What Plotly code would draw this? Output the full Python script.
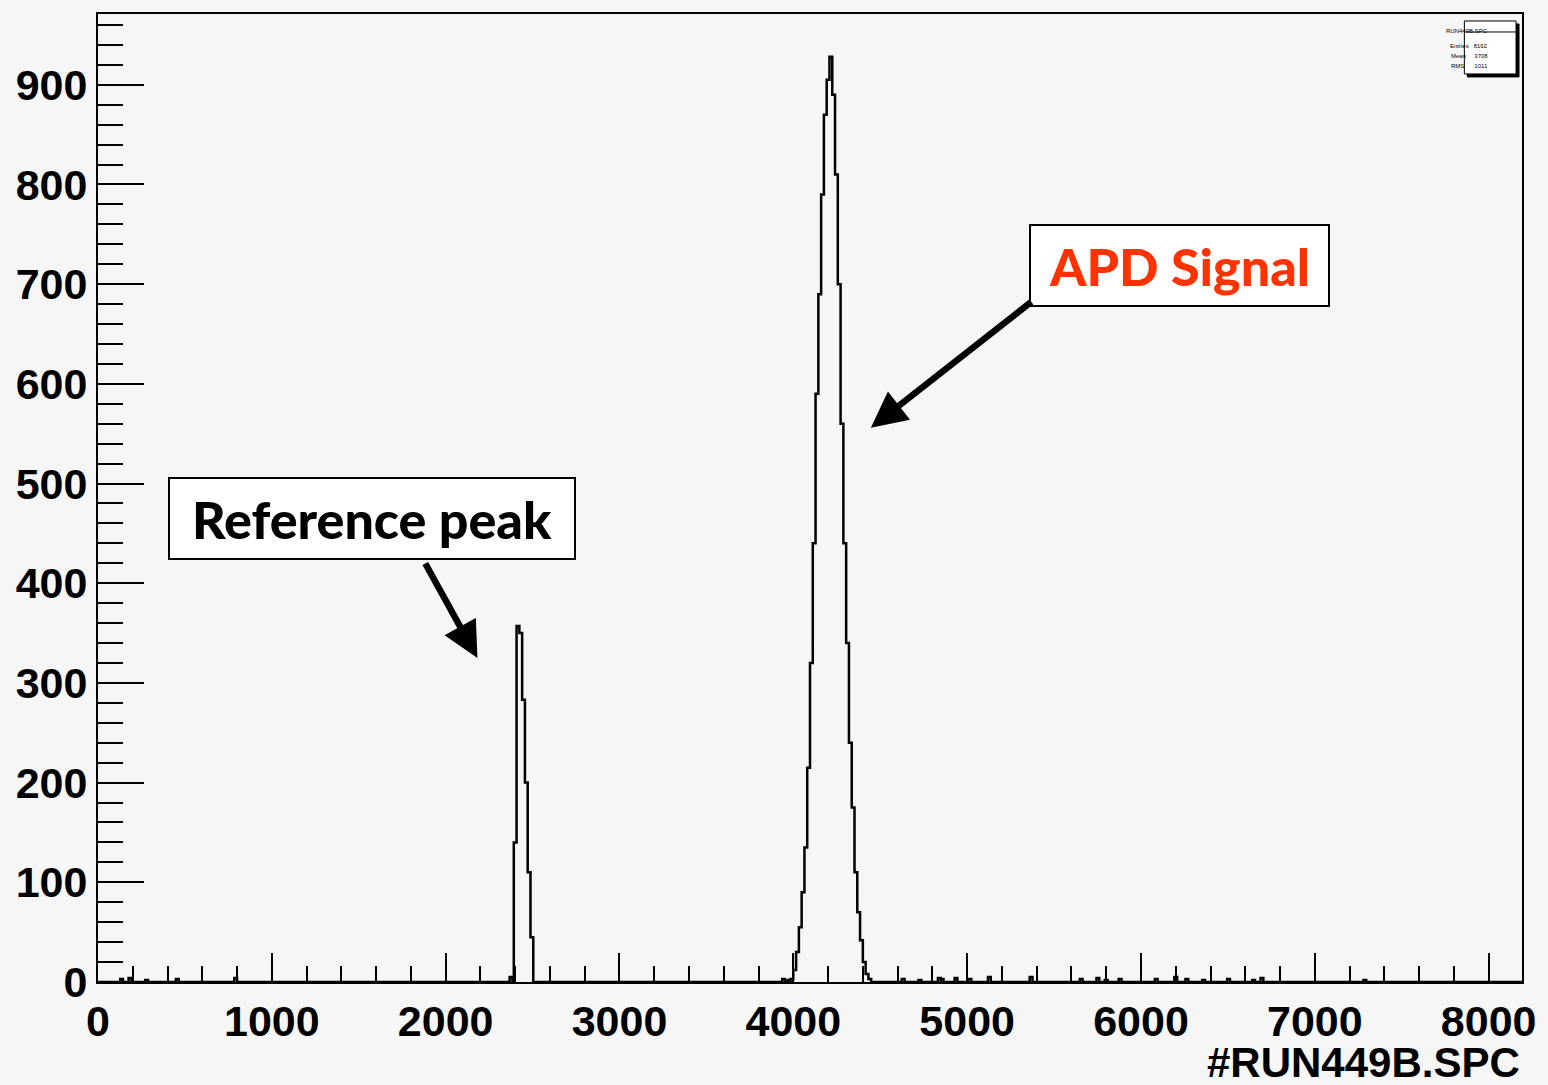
import plotly.graph_objects as go

# ---------------- data ----------------
BIN_W = 16  # channels per drawn bin

# reference (pulser) peak
ref_start = 2392
ref_counts = [140, 357, 350, 283, 200, 110, 45]

# APD signal peak
apd_start = 3984
apd_counts = [3, 12, 30, 55, 90, 135, 215, 320, 440, 590, 690, 790, 870, 905, 928,
              890, 810, 700, 560, 440, 340, 240, 175, 110, 70, 42, 20, 8, 3]

# scattered single-bin noise counts
noise_ch = [128, 176, 272, 448, 784, 2368, 3936, 3968, 4624, 4720, 4832, 4848, 4928,
            5008, 5120, 5360, 5648, 5744, 5792, 5872, 6080, 6192, 6256, 6352, 6496,
            6640, 6688, 7280]
noise_counts = [3, 4, 2, 3, 4, 5, 3, 2, 3, 2, 4, 3, 4, 3, 5, 5, 3, 4, 2, 3, 3, 5, 3, 2, 3,
                2, 4, 2]

x_ticks = [0, 1000, 2000, 3000, 4000, 5000, 6000, 7000, 8000]
y_ticks = [0, 100, 200, 300, 400, 500, 600, 700, 800, 900]
x_title = "#RUN449B.SPC"
stats_title = "RUN449B.SPC"
stats_rows = ["Entries   8192", "Mean     3708", "RMS      1011"]

# ---------------- build histogram step outline ----------------
segments = []
segments.append((ref_start, ref_counts))
segments.append((apd_start, apd_counts))
for c, v in zip(noise_ch, noise_counts):
    segments.append((c, [v]))
segments.sort(key=lambda s: s[0])

xs, ys = [0], [0]
for start, counts in segments:
    xs.append(start); ys.append(0)
    for i, v in enumerate(counts):
        xs.append(start + i * BIN_W); ys.append(v)
    xs.append(start + len(counts) * BIN_W); ys.append(0)
xs.append(8192); ys.append(0)

fig = go.Figure()
fig.add_trace(go.Scatter(x=xs, y=ys, mode="lines", line=dict(color="black", width=2.5, shape="hv"),
                         hoverinfo="skip", showlegend=False))

BG = "#f6f6f6"
tickfont = dict(family="Liberation Sans, Arial, sans-serif", size=43, color="black")

fig.update_layout(
    width=1548, height=1085, autosize=False,
    margin=dict(l=98, r=17, t=13, b=103),
    paper_bgcolor=BG, plot_bgcolor=BG,
    xaxis=dict(range=[0, 8192], showgrid=False, zeroline=False,
               showline=True, linecolor="black", linewidth=2, mirror=True,
               ticks="inside", ticklen=29, tickwidth=2, tickcolor="black",
               tickvals=x_ticks, ticktext=[f"<b>{v}</b>" for v in x_ticks],
               tickfont=tickfont,
               minor=dict(ticks="inside", ticklen=16, tickwidth=2, tickcolor="black", dtick=200,
                          showgrid=False)),
    yaxis=dict(range=[0, 971], showgrid=False, zeroline=False,
               showline=True, linecolor="black", linewidth=2, mirror=True,
               ticks="inside", ticklen=46, tickwidth=2, tickcolor="black",
               tickvals=y_ticks, ticktext=[f"<b>{v}</b>" for v in y_ticks],
               tickfont=tickfont,
               minor=dict(ticks="inside", ticklen=25, tickwidth=2, tickcolor="black", dtick=20,
                          showgrid=False)),
)

# x-axis title, right aligned
fig.add_annotation(xref="paper", yref="paper", x=1.0, y=0, xanchor="right", yanchor="top",
                   yshift=-55, showarrow=False, text=f"<b>{x_title}</b>",
                   font=dict(family="Liberation Sans, Arial, sans-serif", size=42, color="black"))

# label boxes
labfont = dict(family="Lato, sans-serif", size=52, weight=900)
fig.add_annotation(x=1574, y=465, xref="x", yref="y", showarrow=False,
                   text="Reference peak",
                   font=dict(labfont, color="black"),
                   bgcolor="white", bordercolor="black", borderwidth=2, borderpad=0,
                   width=404, height=79)
fig.add_annotation(x=6223, y=719, xref="x", yref="y", showarrow=False,
                   text="APD Signal",
                   font=dict(labfont, color="#ff3300"),
                   bgcolor="white", bordercolor="black", borderwidth=2, borderpad=0,
                   width=297, height=79)

# arrows (tip at x,y; tail offset in pixels)
fig.add_annotation(x=2183, y=325, xref="x", yref="y", text="", showarrow=True,
                   ax=-53, ay=-96, arrowhead=2, arrowwidth=6.5, arrowsize=1.1, arrowcolor="black")
fig.add_annotation(x=4446, y=556, xref="x", yref="y", text="", showarrow=True,
                   ax=162, ay=-127, arrowhead=2, arrowwidth=6.5, arrowsize=1.1, arrowcolor="black")

# statistics box (top-right)
x0, x1 = (1473 - 98) / 1433, (1525 - 98) / 1433
y1, y0 = (982 - 20) / 969, (982 - 73) / 969
dx, dy = 3 / 1433, 3 / 969
fig.add_shape(type="rect", xref="paper", yref="paper", x0=x0 + dx, x1=x1 + dx, y0=y0 - dy, y1=y1 - dy,
              fillcolor="black", line=dict(color="black", width=1))
fig.add_shape(type="rect", xref="paper", yref="paper", x0=x0, x1=x1, y0=y0, y1=y1,
              fillcolor="white", line=dict(color="black", width=1))
fig.add_shape(type="line", xref="paper", yref="paper", x0=x0, x1=x1,
              y0=(982 - 31) / 969, y1=(982 - 31) / 969, line=dict(color="black", width=1))
fig.add_annotation(xref="paper", yref="paper", x=(x0 + x1) / 2, y=(982 - 25) / 969,
                   text=stats_title, showarrow=False,
                   font=dict(family="Liberation Sans", size=6, color="black"))
for i, row in enumerate(stats_rows):
    fig.add_annotation(xref="paper", yref="paper", x=(x0 + x1) / 2, y=(982 - 40 - i * 10) / 969,
                       text=row, showarrow=False,
                       font=dict(family="Liberation Sans", size=6, color="black"))

page_fix = ("document.documentElement.style.margin='0';document.body.style.margin='0';"
            "document.body.style.padding='0';document.documentElement.style.overflow='hidden';"
            "document.body.style.overflow='hidden';document.body.style.background='%s';" % BG)
fig.write_html("out.html", post_script=page_fix,
               config={"displayModeBar": False, "responsive": False},
               default_width="1548px", default_height="1085px")
